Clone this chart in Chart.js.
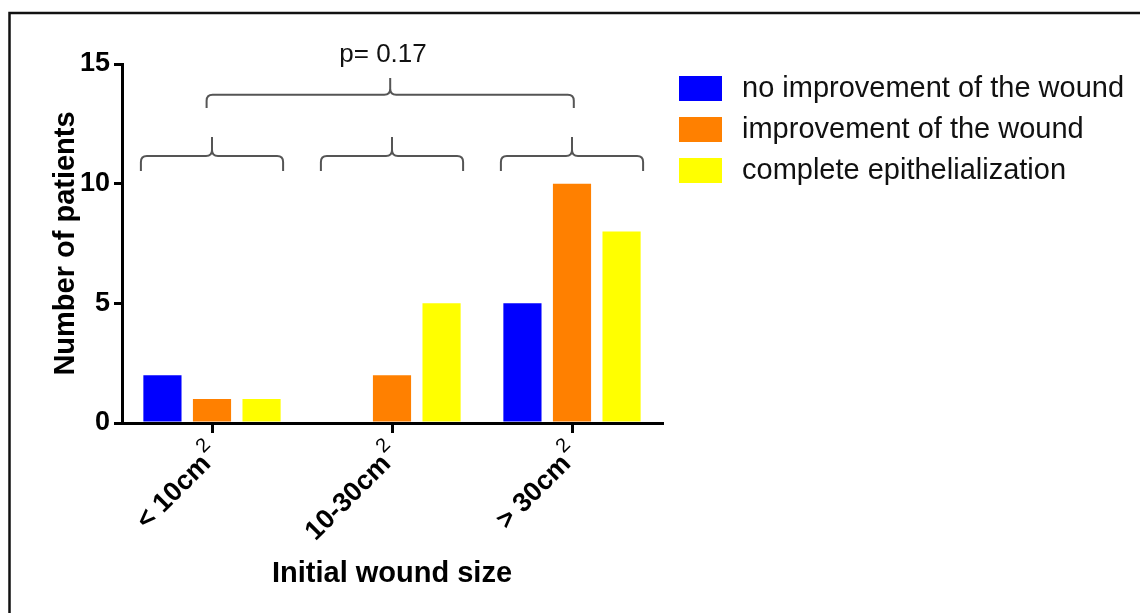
<!DOCTYPE html>
<html>
<head>
<meta charset="utf-8">
<script src="https://cdn.jsdelivr.net/npm/chart.js@4.4.1/dist/chart.umd.min.js"></script>
<style>
  html, body { margin: 0; padding: 0; background: #ffffff; }
  canvas { display: block; }
</style>
</head>
<body>
<canvas id="chart" width="1140" height="613"></canvas>
<script>
// data
const categories = ["< 10cm", "10-30cm", "> 30cm"];
const categoryExponent = "2";
const seriesLabels = [
  "no improvement of the wound",
  "improvement of the wound",
  "complete epithelialization",
];
const noImprovement = [2, 0, 5];
const improvement = [1, 2, 10];
const epithelialization = [1, 5, 8];
const yMax = 15;
const yStep = 5;
const pValueText = "p= 0.17";

const FONT = "'Liberation Sans', Arial, sans-serif";
const SERIES_COLOURS = ["#0000ff", "#ff8000", "#ffff00"];
const BRACKET_COLOUR = "#555555";

// brackets above the bars: x span in category index units, y in patient counts
const BRACKETS = [
  { from: -0.03, to: 2.01, foot: 13.16, level: 13.71, peak: 14.42 },
  { from: -0.395, to: 0.395, foot: 10.53, level: 11.16, peak: 11.95 },
  { from: 0.605, to: 1.395, foot: 10.53, level: 11.16, peak: 11.95 },
  { from: 1.605, to: 2.395, foot: 10.53, level: 11.16, peak: 11.95 },
];
const P_VALUE_POS = { x: 0.95, y: 15.09 };

Chart.defaults.font.family = FONT;
Chart.defaults.color = "#000000";

function datasetConfiguration(label, data, colour) {
  return {
    label: label,
    data: data,
    backgroundColor: colour,
    borderWidth: 0,
    categoryPercentage: 0.826,
    barPercentage: 0.77,
  };
}

function drawBracket(ctx, xL, xR, yFoot, yLevel, yPeak) {
  const xc = (xL + xR) / 2;
  const r = 6;
  ctx.beginPath();
  ctx.moveTo(xL, yFoot);
  ctx.lineTo(xL, yLevel + r);
  ctx.quadraticCurveTo(xL, yLevel, xL + r, yLevel);
  ctx.lineTo(xc - r, yLevel);
  ctx.quadraticCurveTo(xc, yLevel, xc, yLevel - r);
  ctx.lineTo(xc, yPeak);
  ctx.moveTo(xc, yLevel - r);
  ctx.quadraticCurveTo(xc, yLevel, xc + r, yLevel);
  ctx.lineTo(xR - r, yLevel);
  ctx.quadraticCurveTo(xR, yLevel, xR, yLevel + r);
  ctx.lineTo(xR, yFoot);
  ctx.stroke();
}

const framePlugin = {
  id: "frame",
  beforeDraw(chart) {
    const ctx = chart.ctx;
    ctx.save();
    ctx.strokeStyle = "#111111";
    ctx.lineWidth = 2.5;
    ctx.beginPath();
    ctx.moveTo(9.5, chart.height);
    ctx.lineTo(9.5, 13);
    ctx.lineTo(chart.width, 13);
    ctx.stroke();
    ctx.restore();
  },
};

const bracketPlugin = {
  id: "brackets",
  afterDatasetsDraw(chart) {
    const { ctx, scales } = chart;
    const x = scales.x;
    const y = scales.y;
    ctx.save();
    ctx.strokeStyle = BRACKET_COLOUR;
    ctx.lineWidth = 2;
    BRACKETS.forEach((b) => {
      drawBracket(
        ctx,
        x.getPixelForValue(b.from),
        x.getPixelForValue(b.to),
        y.getPixelForValue(b.foot),
        y.getPixelForValue(b.level),
        y.getPixelForValue(b.peak)
      );
    });
    ctx.fillStyle = "#111111";
    ctx.font = "26px " + FONT;
    ctx.textAlign = "center";
    ctx.textBaseline = "alphabetic";
    ctx.fillText(
      pValueText,
      x.getPixelForValue(P_VALUE_POS.x),
      y.getPixelForValue(P_VALUE_POS.y)
    );
    ctx.restore();
  },
};

// rotated category labels with a superscript exponent
const xLabelPlugin = {
  id: "xLabels",
  afterDraw(chart) {
    const ctx = chart.ctx;
    const x = chart.scales.x;
    ctx.save();
    ctx.fillStyle = "#000000";
    categories.forEach((cat, i) => {
      ctx.save();
      ctx.translate(x.getPixelForTick(i), x.top + 42);
      ctx.rotate(-Math.PI / 4);
      ctx.font = "bold 27px " + FONT;
      ctx.textAlign = "right";
      ctx.textBaseline = "alphabetic";
      ctx.fillText(cat, 0, 0);
      ctx.font = "20px " + FONT;
      ctx.textAlign = "left";
      ctx.fillText(categoryExponent, 2, -14);
      ctx.restore();
    });
    ctx.restore();
  },
};

const legendPlugin = {
  id: "sideLegend",
  afterDraw(chart) {
    const ctx = chart.ctx;
    ctx.save();
    ctx.font = "29px " + FONT;
    ctx.textAlign = "left";
    ctx.textBaseline = "middle";
    chart.data.datasets.forEach((ds, i) => {
      const top = 76 + i * 41;
      ctx.fillStyle = ds.backgroundColor;
      ctx.fillRect(679, top, 43, 25);
      ctx.fillStyle = "#111111";
      ctx.fillText(ds.label, 742, top + 12.5);
    });
    ctx.restore();
  },
};

const datasets = [
  datasetConfiguration(seriesLabels[0], noImprovement, SERIES_COLOURS[0]),
  datasetConfiguration(seriesLabels[1], improvement, SERIES_COLOURS[1]),
  datasetConfiguration(seriesLabels[2], epithelialization, SERIES_COLOURS[2]),
];

new Chart(document.getElementById("chart").getContext("2d"), {
  type: "bar",
  data: { labels: categories, datasets: datasets },
  options: {
    responsive: false,
    animation: false,
    devicePixelRatio: 1,
    layout: { padding: { top: 64, right: 478, bottom: 0, left: 0 } },
    scales: {
      x: {
        z: 1,
        afterFit: (scale) => {
          scale.height = 190;
        },
        border: { color: "#000000", width: 3 },
        grid: {
          offset: false,
          drawOnChartArea: false,
          drawTicks: true,
          tickLength: 10,
          lineWidth: 3,
          color: "#000000",
        },
        ticks: { display: false },
        title: {
          display: true,
          text: "Initial wound size",
          color: "#000000",
          font: { size: 29, weight: "bold", lineHeight: 1 },
          padding: { top: 0, bottom: 24.5 },
        },
      },
      y: {
        min: 0,
        max: yMax,
        afterFit: (scale) => {
          scale.width = 122;
        },
        border: { color: "#000000", width: 3 },
        grid: {
          drawOnChartArea: false,
          drawTicks: true,
          tickLength: 8,
          lineWidth: 3,
          color: "#000000",
        },
        ticks: {
          stepSize: yStep,
          padding: 4,
          color: "#000000",
          font: { size: 27, weight: "bold" },
        },
        title: {
          display: true,
          text: "Number of patients",
          color: "#000000",
          font: { size: 29, weight: "bold", lineHeight: 1 },
          padding: { top: 51.5, bottom: 0 },
        },
      },
    },
    plugins: {
      legend: { display: false },
      tooltip: { enabled: false },
    },
  },
  plugins: [framePlugin, bracketPlugin, xLabelPlugin, legendPlugin],
});
</script>
</body>
</html>
